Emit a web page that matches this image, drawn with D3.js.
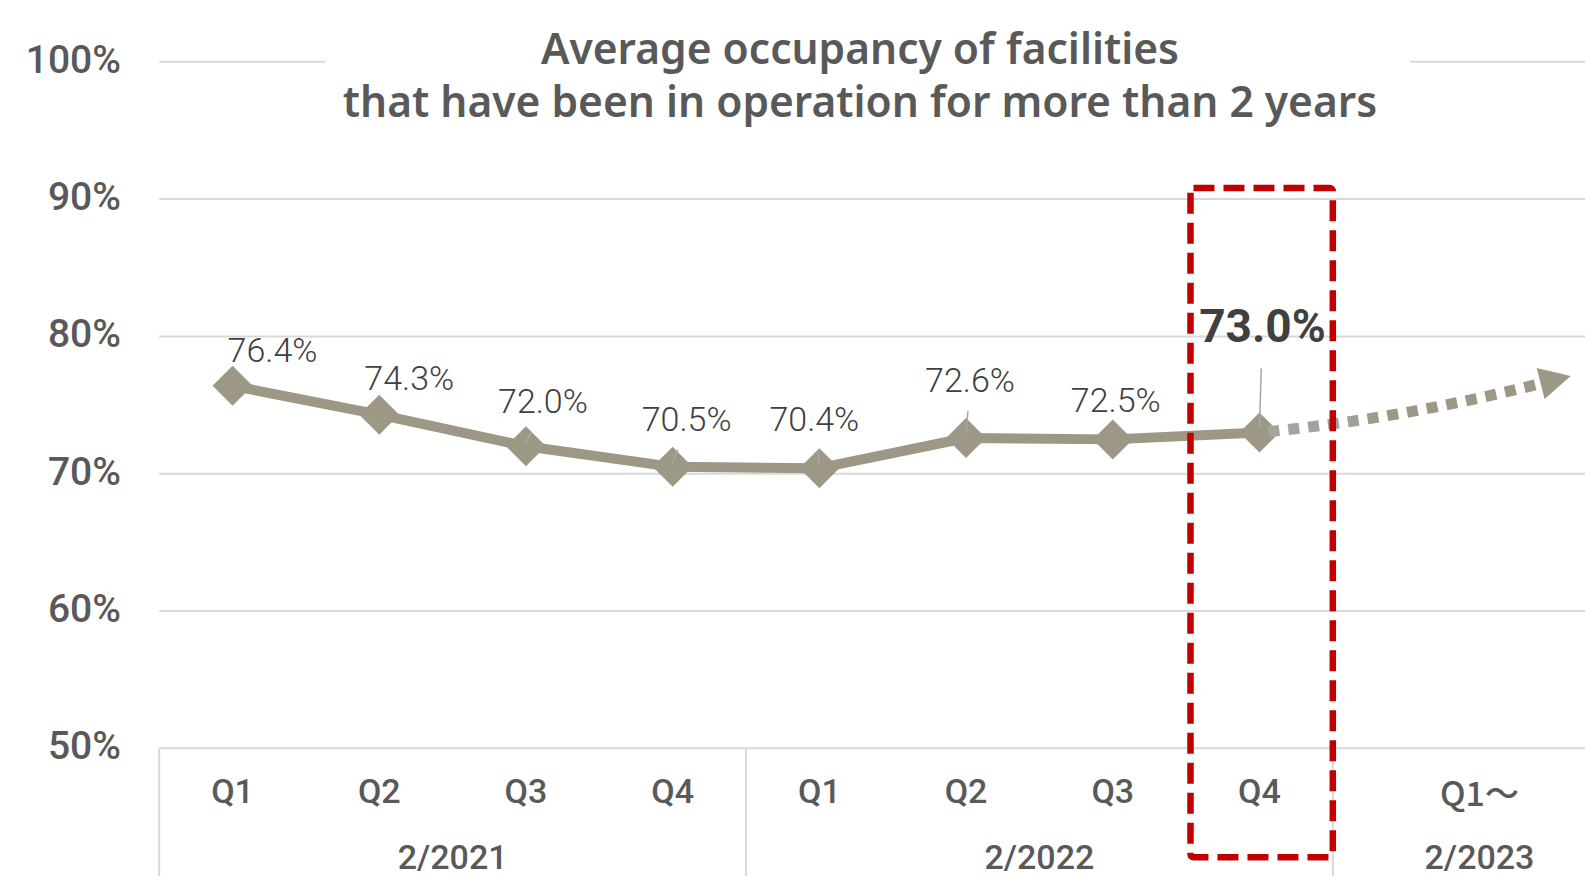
<!DOCTYPE html>
<html>
<head>
<meta charset="utf-8">
<script src="https://cdn.jsdelivr.net/npm/d3@7"></script>
<style>
  html, body { margin: 0; padding: 0; background: #fff; overflow: hidden; }
  svg { display: block; }
  text { font-family: Roboto, "Noto Sans", sans-serif; }
</style>
</head>
<body>
<svg id="chart" width="1585" height="876"></svg>
<script>
// ---------------- data ----------------
const titleLines = ["Average occupancy of facilities", "that have been in operation for more than 2 years"];
const categories = ["Q1", "Q2", "Q3", "Q4", "Q1", "Q2", "Q3", "Q4", "Q1～"];
const categorySlots = [1, 1, 1, 1, 1, 1, 1, 1, 2];   // slot widths of each category
const groups = ["2/2021", "2/2022", "2/2023"];
const groupSizes = [4, 4, 1];                       // categories per group
const occupancy = [76.4, 74.3, 72.0, 70.5, 70.4, 72.6, 72.5, 73.0];
const valueLabels = ["76.4%", "74.3%", "72.0%", "70.5%", "70.4%", "72.6%", "72.5%", "73.0%"];
const yTicks = [50, 60, 70, 80, 90, 100];
const yTickLabels = ["50%", "60%", "70%", "80%", "90%", "100%"];
const highlightIndex = 7;
const trendPath = [[7, 73.0], [7.97, 74.0], [8.93, 76.6]];   // projection after the last quarter

// label placement (style, not data)
const labelOffsets = [[40, -36], [30, -37], [17, -45], [14, -48], [-5, -49], [4, -58], [3, -39], [3, -107]];
const leaderFlags = [false, false, true, true, true, true, false, true];

// ---------------- layout ----------------
const W = 1585, H = 876;
const svg = d3.select("#chart");
const slotW = 146.7;
const x0 = 159.2;
const totalSlots = d3.sum(categorySlots);
const x = d3.scaleLinear().domain([-0.5, totalSlots - 0.5]).range([x0, x0 + slotW * totalSlots]);
const y = d3.scaleLinear().domain([50, 100]).range([748.3, 61.8]);

// category centers (in slot units)
const catStart = [];
let acc = 0;
categorySlots.forEach(s => { catStart.push(acc); acc += s; });
const catCenter = categorySlots.map((s, i) => catStart[i] + s / 2 - 0.5);

// ---------------- gridlines ----------------
svg.append("g").selectAll("line").data(yTicks.filter(t => t !== 50)).join("line")
  .attr("x1", x0).attr("x2", W)
  .attr("y1", d => y(d)).attr("y2", d => y(d))
  .attr("stroke", "#D9D9D9").attr("stroke-width", 2);

// baseline & category dividers
svg.append("line").attr("x1", x0).attr("x2", W).attr("y1", y(50)).attr("y2", y(50))
  .attr("stroke", "#D9D9D9").attr("stroke-width", 2);
let gStart = 0;
const groupBounds = groups.map((g, i) => {
  const first = gStart, last = gStart + groupSizes[i] - 1;
  gStart += groupSizes[i];
  return [catStart[first] - 0.5, catStart[last] + categorySlots[last] - 0.5];
});
const dividers = [groupBounds[0][0]].concat(groupBounds.map(b => b[1]));
svg.append("g").selectAll("line").data(dividers).join("line")
  .attr("x1", d => x(d)).attr("x2", d => x(d))
  .attr("y1", y(50)).attr("y2", H)
  .attr("stroke", "#D9D9D9").attr("stroke-width", 2);

// y tick labels
svg.append("g").selectAll("text").data(yTicks).join("text")
  .attr("x", 121).attr("y", d => y(d) - 2)
  .attr("text-anchor", "end").attr("dominant-baseline", "central")
  .attr("font-size", 39).attr("font-weight", 500).attr("fill", "#595959")
  .text((d, i) => yTickLabels[i]);

// category labels
svg.append("g").selectAll("text").data(categories).join("text")
  .attr("x", (d, i) => x(catCenter[i])).attr("y", 791)
  .attr("text-anchor", "middle").attr("dominant-baseline", "central")
  .attr("font-size", 34).attr("font-weight", 500).attr("fill", "#595959")
  .style("font-family", d => /～/.test(d) ? "'Noto Sans CJK JP', Roboto, sans-serif" : null)
  .text(d => d);

// group labels
svg.append("g").selectAll("text").data(groups).join("text")
  .attr("x", (d, i) => x((groupBounds[i][0] + groupBounds[i][1]) / 2)).attr("y", 857)
  .attr("text-anchor", "middle").attr("dominant-baseline", "central")
  .attr("font-size", 34).attr("font-weight", 500).attr("fill", "#595959")
  .text(d => d);

// ---------------- title ----------------
svg.append("rect").attr("x", 325).attr("y", 20).attr("width", 1085).attr("height", 115).attr("fill", "#fff");
svg.append("g").selectAll("text").data(titleLines).join("text")
  .attr("x", 860).attr("y", (d, i) => 64 + i * 53)
  .attr("text-anchor", "middle")
  .style("font-family", "'Noto Sans', Roboto, sans-serif")
  .attr("font-size", 42.5).attr("font-weight", 600).attr("fill", "#595959")
  .text(d => d);

// ---------------- line ----------------
const lineColor = "#9D9885";
const pts = occupancy.map((v, i) => [x(catCenter[i]), y(v)]);
svg.append("path").datum(pts)
  .attr("d", d3.line())
  .attr("fill", "none").attr("stroke", lineColor).attr("stroke-width", 10)
  .attr("stroke-linejoin", "round");

// diamonds
const r = 20;
svg.append("g").selectAll("path").data(pts).join("path")
  .attr("d", d => `M${d[0]},${d[1] - r}L${d[0] + r},${d[1]}L${d[0]},${d[1] + r}L${d[0] - r},${d[1]}Z`)
  .attr("fill", lineColor);

// ---------------- trend arrow ----------------
const tp = trendPath.map(p => [x(p[0]), y(p[1])]);
const defs = svg.append("defs");
const grad = defs.append("linearGradient").attr("id", "tg")
  .attr("gradientUnits", "userSpaceOnUse")
  .attr("x1", tp[0][0]).attr("y1", 0).attr("x2", tp[2][0]).attr("y2", 0);
grad.append("stop").attr("offset", "0%").attr("stop-color", "#A6A6A2");
grad.append("stop").attr("offset", "30%").attr("stop-color", "#A3A19A");
grad.append("stop").attr("offset", "45%").attr("stop-color", "#9D9885");
grad.append("stop").attr("offset", "100%").attr("stop-color", "#9D9885");

svg.append("path")
  .attr("d", `M${tp[0][0]},${tp[0][1]}Q${tp[1][0]},${tp[1][1]} ${tp[2][0]},${tp[2][1]}`)
  .attr("fill", "none").attr("stroke", "url(#tg)").attr("stroke-width", 11)
  .attr("stroke-dasharray", "11 9").attr("stroke-dashoffset", 11);

// arrowhead along the end tangent
const dx = tp[2][0] - tp[1][0], dy = tp[2][1] - tp[1][1];
const len = Math.hypot(dx, dy), ux = dx / len, uy = dy / len;
const headL = 31, headW = 16;
const base = [tp[2][0] - ux * 2, tp[2][1] - uy * 2];
const tip = [base[0] + ux * headL, base[1] + uy * headL];
svg.append("path")
  .attr("d", `M${tip[0]},${tip[1]}L${base[0] - uy * headW},${base[1] + ux * headW}L${base[0] + uy * headW},${base[1] - ux * headW}Z`)
  .attr("fill", lineColor);

// ---------------- data labels & leaders ----------------
const lab = pts.map((p, i) => [p[0] + labelOffsets[i][0], p[1] + labelOffsets[i][1]]);
svg.append("g").selectAll("line").data(pts.filter((p, i) => leaderFlags[i])).join("line")
  .each(function (p) {
    const i = pts.indexOf(p);
    const big = i === highlightIndex;
    const endY = lab[i][1] + (big ? 43 : 31);
    const t = (p[1] - endY) / (p[1] - lab[i][1]);
    const endX = p[0] + (lab[i][0] - p[0]) * t;
    d3.select(this)
      .attr("x1", p[0]).attr("y1", p[1] - 4)
      .attr("x2", endX).attr("y2", endY);
  })
  .attr("stroke", "#A6A6A6").attr("stroke-width", 1.5);

svg.append("g").selectAll("text").data(valueLabels).join("text")
  .attr("x", (d, i) => lab[i][0]).attr("y", (d, i) => lab[i][1])
  .attr("text-anchor", "middle").attr("dominant-baseline", "central")
  .attr("font-size", (d, i) => i === highlightIndex ? 46 : 34)
  .attr("font-weight", (d, i) => i === highlightIndex ? 700 : 300)
  .attr("fill", "#404040")
  .text(d => d);

// ---------------- highlight box ----------------
const hx = catCenter[highlightIndex];
svg.append("rect")
  .attr("x", x(hx - 0.47)).attr("y", y(90.8))
  .attr("width", x(hx + 0.5) - x(hx - 0.47))
  .attr("height", (y(50) + 109) - y(90.8))
  .attr("fill", "none").attr("stroke", "#C00000").attr("stroke-width", 6.5)
  .attr("stroke-dasharray", "21 9").attr("rx", 3);
</script>
</body>
</html>
